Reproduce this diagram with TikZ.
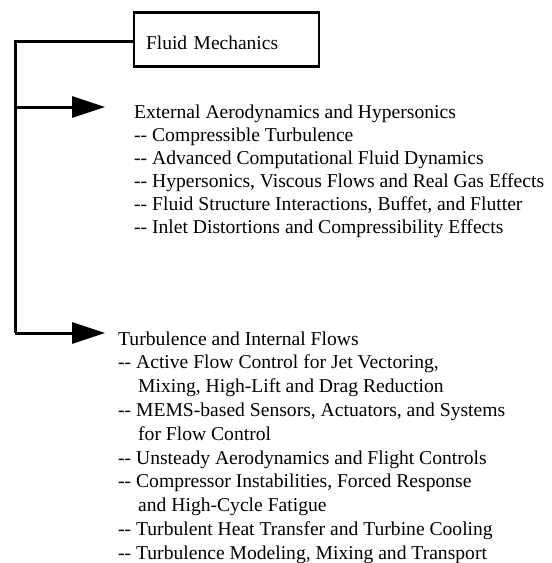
\documentclass[tikz,border=0pt]{standalone}
\usepackage{fontspec}
\setmainfont{Liberation Serif}
\usetikzlibrary{arrows.meta}
\tikzset{
  wire/.style={line width=3pt},
  feed/.style={wire, -{Triangle[length=33pt,width=21pt]}},
  topbox/.style={draw, line width=2.7pt, minimum width=185pt, minimum height=54pt,
    inner xsep=12pt, text width=161pt, align=left, text height=19pt, text depth=0pt,
    font=\fontsize{19.5}{23.5}\selectfont},
  item/.style={anchor=base west, inner sep=0pt, font=\fontsize{19.6}{23.5}\selectfont}
}
\begin{document}
\begin{tikzpicture}[x=1pt,y=-1pt]
\useasboundingbox (0,0) rectangle (552,563);

% root box
\node[topbox] (fm) at (226.5,39.5) {Fluid Mechanics};

% first branch
\node[item] (e0) at (134,118) {External Aerodynamics and Hypersonics};
\node[item] (e1) at (134,141) {-{}- Compressible Turbulence};
\node[item] (e2) at (134,164) {-{}- Advanced Computational Fluid Dynamics};
\node[item] (e3) at (134,187) {-{}- Hypersonics, Viscous Flows and Real Gas Effects};
\node[item] (e4) at (134,210) {-{}- Fluid Structure Interactions, Buffet, and Flutter};
\node[item] (e5) at (134,233) {-{}- Inlet Distortions and Compressibility Effects};

% second branch
\node[item] (t0) at (118,345) {Turbulence and Internal Flows};
\node[item] (t1) at (118,368.8) {-{}- Active Flow Control for Jet Vectoring,};
\node[item] (t2) at (138,392.6) {Mixing, High-Lift and Drag Reduction};
\node[item] (t3) at (118,416.4) {-{}- MEMS-based Sensors, Actuators, and Systems};
\node[item] (t4) at (138,440.2) {for Flow Control};
\node[item] (t5) at (118,464) {-{}- Unsteady Aerodynamics and Flight Controls};
\node[item] (t6) at (118,487.8) {-{}- Compressor Instabilities, Forced Response};
\node[item] (t7) at (138,511.6) {and High-Cycle Fatigue};
\node[item] (t8) at (118,535.4) {-{}- Turbulent Heat Transfer and Turbine Cooling};
\node[item] (t9) at (118,559.2) {-{}- Turbulence Modeling, Mixing and Transport};

% trunk and branches
\coordinate (top) at (15,41);
\coordinate (j1) at (15,107);
\coordinate (bot) at (15,333);
\draw[wire] (top -| fm.west) -- (top) -- (bot);
\draw[feed, shorten >=29pt] (j1) -- (j1 -| e0.west);
\draw[feed, shorten >=13pt] (bot) -- (bot -| t0.west);
\end{tikzpicture}
\end{document}
